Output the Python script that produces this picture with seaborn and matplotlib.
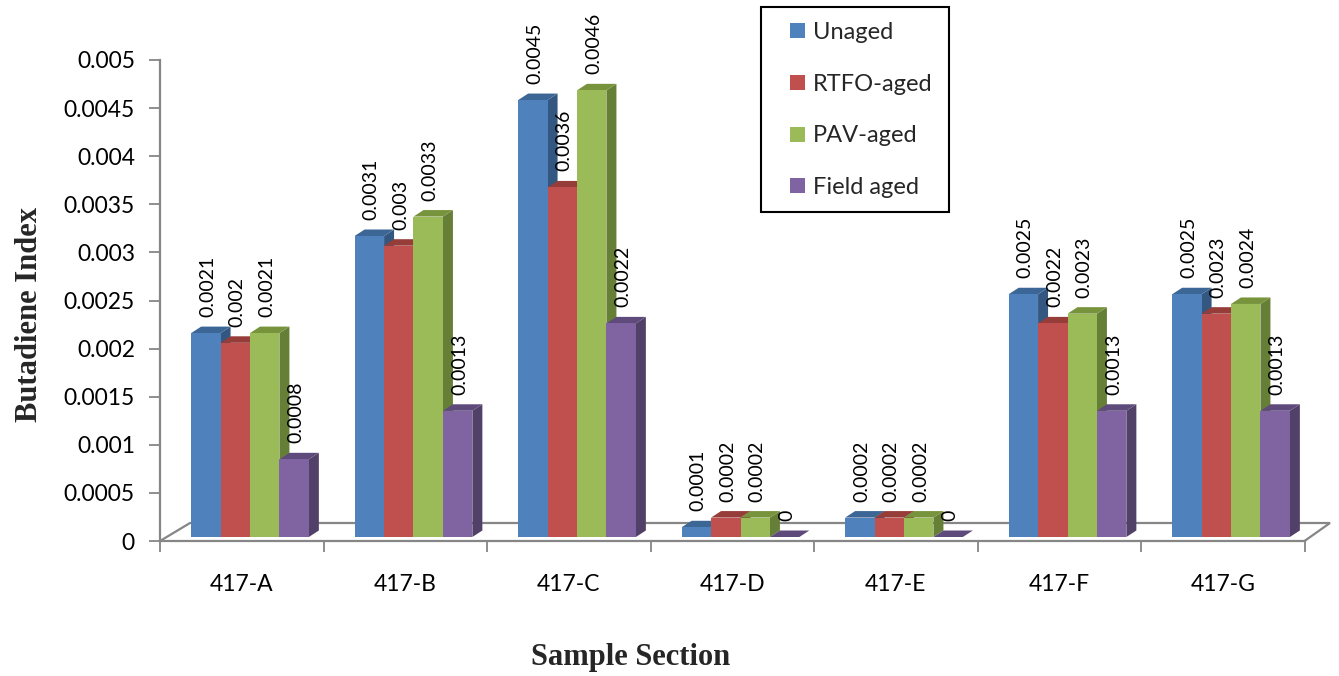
import numpy as np
import pandas as pd
import seaborn as sns
import matplotlib.pyplot as plt
from matplotlib.patches import Polygon, Rectangle, Patch

# ---- data ----
sections = ["417-A", "417-B", "417-C", "417-D", "417-E", "417-F", "417-G"]
series = ["Unaged", "RTFO-aged", "PAV-aged", "Field aged"]
unaged = [0.0021, 0.0031, 0.0045, 0.0001, 0.0002, 0.0025, 0.0025]
rtfo_aged = [0.0020, 0.0030, 0.0036, 0.0002, 0.0002, 0.0022, 0.0023]
pav_aged = [0.0021, 0.0033, 0.0046, 0.0002, 0.0002, 0.0023, 0.0024]
field_aged = [0.0008, 0.0013, 0.0022, 0.0, 0.0, 0.0013, 0.0013]
y_ticks = [0, 0.0005, 0.001, 0.0015, 0.002, 0.0025, 0.003, 0.0035, 0.004, 0.0045, 0.005]
y_tick_labels = ["0", "0.0005", "0.001", "0.0015", "0.002", "0.0025", "0.003",
                 "0.0035", "0.004", "0.0045", "0.005"]

front_colors = ["#4F81BD", "#C0504D", "#9BBB59", "#8064A2"]
top_colors = ["#3C6696", "#963C39", "#77933C", "#5F4A7C"]
side_colors = ["#335780", "#8A3836", "#667F37", "#514067"]

df = pd.DataFrame({
    "section": np.tile(sections, len(series)),
    "series": np.repeat(series, len(sections)),
    "value": unaged + rtfo_aged + pav_aged + field_aged,
})

sns.set_style("white")
plt.rcParams["font.family"] = ["Lato", "DejaVu Sans"]

W, H = 1339, 676
fig = plt.figure(figsize=(W / 100, H / 100), dpi=100)
fig.patch.set_facecolor("white")

AXIS_GREY = "#868686"

# ---- value axis and floor ----
x0, x1 = 160, 1304.5          # floor front edge (px)
y0, y1 = 541, 60              # value axis 0 .. 0.005 (px)
axf = fig.add_axes([x0 / W, (H - y0) / H, (x1 - x0) / W, (y0 - y1) / H])
axf.set_xlim(-0.5, len(sections) - 0.5)
axf.set_ylim(0, 0.005)
for s in ["top", "right"]:
    axf.spines[s].set_visible(False)
for s in ["left", "bottom"]:
    axf.spines[s].set_color(AXIS_GREY)
    axf.spines[s].set_linewidth(1.6)
axf.set_yticks(y_ticks)
axf.set_yticklabels(y_tick_labels)
axf.tick_params(axis="y", direction="out", length=8, width=1.3, color=AXIS_GREY,
                pad=10, labelsize=16.5, labelcolor="black", left=True)
axf.set_xticks(range(len(sections)))
axf.set_xticklabels(sections)
axf.tick_params(axis="x", which="major", length=0, pad=24, labelsize=16.5,
                labelcolor="black")
axf.set_xticks(np.arange(-0.5, len(sections)), minor=True)
axf.tick_params(axis="x", which="minor", direction="out", length=8, width=1.3,
                color=AXIS_GREY, bottom=True)
axf.grid(False)
axf.patch.set_alpha(0)


def fx(px):
    return (px - x0) / (x1 - x0)


def fy(py):
    return (y0 - py) / (y0 - y1)


floor_x = [fx(160), fx(190), fx(1330), fx(1304.5)]
floor_y = [fy(541), fy(523), fy(523), fy(541)]
axf.plot(floor_x, floor_y, transform=axf.transAxes, color=AXIS_GREY,
         lw=1.6, clip_on=False, solid_joinstyle="miter")

# ---- bars ----
gx0 = 250 - 163.5 / 2         # first group centre at 250 px
by0, by1 = 537, 51.5          # bar base and 0.005 level (px)
ax = fig.add_axes([gx0 / W, (H - by0) / H, (163.5 * len(sections)) / W, (by0 - by1) / H])
ax.set_zorder(axf.get_zorder() + 1)
sns.barplot(data=df, x="section", y="value", hue="series", order=sections,
            hue_order=series, palette=front_colors, saturation=1, width=0.72,
            linewidth=0, legend=False, ax=ax)
ax.set_xlim(-0.5, len(sections) - 0.5)
ax.set_ylim(0, 0.005)
ax.axis("off")
ax.patch.set_alpha(0)

dx = 10 / 163.5               # depth offset in data units
dy = 6.5 * 0.005 / (by0 - by1)

for j, container in enumerate(ax.containers):
    for bar in container:
        x, w, h = bar.get_x(), bar.get_width(), bar.get_height()
        bar.set_zorder(3 + 2 * j)
        side = Polygon([(x + w, 0), (x + w + dx, dy), (x + w + dx, h + dy), (x + w, h)],
                       closed=True, facecolor=side_colors[j], edgecolor="none",
                       zorder=2 + 2 * j)
        top = Polygon([(x, h), (x + w, h), (x + w + dx, h + dy), (x + dx, h + dy)],
                      closed=True, facecolor=top_colors[j], edgecolor="none",
                      zorder=2 + 2 * j)
        ax.add_patch(side)
        ax.add_patch(top)
        ax.annotate(f"{h:g}", (x + w / 2, h), xytext=(2, 16), textcoords="offset pixels",
                    rotation=90, ha="center", va="bottom", fontsize=14,
                    color="black", zorder=20, annotation_clip=False)

# ---- legend ----
handles = [Patch(facecolor=c, edgecolor="none") for c in front_colors]
fig.legend(handles, series, loc="upper left", bbox_to_anchor=(790 / W, 1 - 22 / H),
           frameon=False, fontsize=17, borderpad=0, borderaxespad=0,
           labelspacing=1.3, handlelength=0.62, handleheight=0.6,
           handletextpad=0.35)
fig.patches.append(Rectangle((761 / W, 1 - 212 / H), 188 / W, 205 / H,
                             transform=fig.transFigure, fill=False,
                             edgecolor="black", linewidth=1.5))

# ---- axis titles ----
fig.text(30 / W, 1 - 315 / H, "Butadiene Index", rotation=90, ha="center", va="center",
         fontsize=22, fontweight="bold", family=["Liberation Serif", "DejaVu Serif"])
fig.text(631 / W, 1 - 657 / H, "Sample Section", ha="center", va="center",
         fontsize=22, fontweight="bold", family=["Liberation Serif", "DejaVu Serif"])

fig.savefig("out.png", dpi=100, facecolor="white")
